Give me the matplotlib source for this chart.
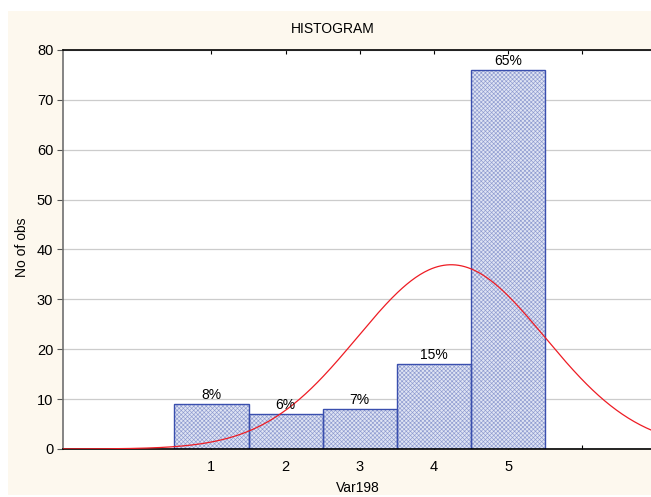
import numpy as np
import matplotlib.pyplot as plt

plt.rcParams['font.family'] = ['Liberation Sans', 'DejaVu Sans']
plt.rcParams['hatch.linewidth'] = 0.45

# Response categories and their counts
categories = [1, 2, 3, 4, 5]
counts = [9, 7, 8, 17, 76]
pct_labels = ['8%', '6%', '7%', '15%', '65%']

bar_color = '#3a4fae'
hatch_color = '#8e9bd0'
curve_color = '#ee1c24'
frame_color = '#fdf8ee'

fig = plt.figure(figsize=(6.51, 4.97), dpi=100)
fig.patch.set_facecolor('white')

# cream panel behind the plot
panel = plt.Rectangle((8 / 651, 2 / 497), 643 / 651, 484 / 497,
                      transform=fig.transFigure, facecolor=frame_color,
                      edgecolor='none', zorder=-5)
fig.patches.append(panel)

# axes box: x from -1 to 7 (right edge runs off the figure)
left, bottom = 63 / 651, (497 - 449) / 497
width, height = (8 * 74.2) / 651, 399 / 497
ax = fig.add_axes([left, bottom, width, height])
ax.set_facecolor('white')

# fine textured fill, then a solid outline on top
ax.bar(categories, counts, width=1.0, facecolor='#dfe4f3', edgecolor=hatch_color,
       hatch='xxxxxxxx', linewidth=0, zorder=2)
ax.bar(categories, counts, width=1.0, fill=False, edgecolor=bar_color,
       linewidth=1.0, zorder=2.5)
for c, v, lab in zip(categories, counts, pct_labels):
    ax.text(c, v + 0.4, lab, ha='center', va='bottom', fontsize=10, zorder=4)

# fitted normal curve scaled to counts
vals = np.repeat(categories, counts)
mu, sd = vals.mean(), vals.std()
xs = np.linspace(-1, 7, 400)
ys = len(vals) * 1.0 * np.exp(-0.5 * ((xs - mu) / sd) ** 2) / (sd * np.sqrt(2 * np.pi))
ax.plot(xs, ys, color=curve_color, linewidth=0.9, zorder=3)

ax.set_xlim(-1, 7)
ax.set_ylim(0, 80)
ax.set_yticks(range(0, 81, 10))
ax.set_xticks([1, 2, 3, 4, 5, 6])
ax.set_xticklabels(['1', '2', '3', '4', '5', ''])
ax.yaxis.grid(True, color='#cccccc', linewidth=0.9, zorder=0)
ax.set_axisbelow(True)

ax.tick_params(axis='y', direction='out', length=4, width=0.8, color='#555555',
               labelsize=10.5, pad=3)
ax.tick_params(axis='x', direction='in', length=3, width=0.8, top=True,
               labelsize=10.5, pad=8)

ax.spines['right'].set_visible(False)
ax.spines['left'].set_color('#707070')
ax.spines['left'].set_linewidth(1.2)
ax.spines['top'].set_linewidth(1.2)
ax.spines['bottom'].set_linewidth(1.2)

fig.text(333 / 651, 1 - 29 / 497, 'HISTOGRAM', ha='center', va='center', fontsize=10)
fig.text(358 / 651, 1 - 488 / 497, 'Var198', ha='center', va='center', fontsize=10)
fig.text(22 / 651, 1 - 247 / 497, 'No of obs', ha='center', va='center',
         rotation=90, fontsize=10)

fig.savefig('out.png', dpi=100)
